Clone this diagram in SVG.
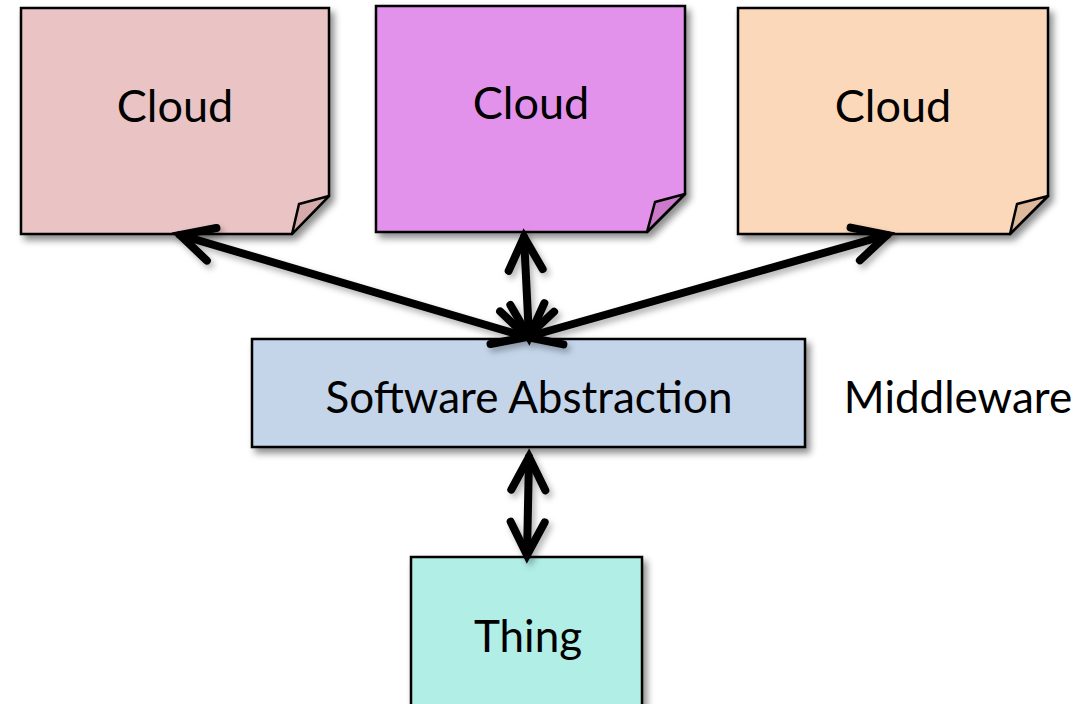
<svg xmlns="http://www.w3.org/2000/svg" width="1074" height="704" viewBox="0 0 1074 704">
<style>
.box{stroke:#000;stroke-width:2.5;stroke-linejoin:miter}
.fold{stroke:#000;stroke-width:2.5;stroke-linejoin:round}
.lbl{font-family:Lato,"Open Sans",sans-serif;font-size:44px;fill:#000;text-anchor:middle}
.arr{stroke:#000;stroke-width:8;fill:none;stroke-linecap:round}
</style>
<defs>
<filter id="sh" x="-10%" y="-10%" width="130%" height="130%">
<feDropShadow dx="4" dy="5" stdDeviation="3.5" flood-color="#000" flood-opacity="0.45"/>
</filter>
<filter id="ash" x="-20%" y="-20%" width="140%" height="140%">
<feDropShadow dx="3" dy="4" stdDeviation="3" flood-color="#000" flood-opacity="0.3"/>
</filter>
<marker id="ah" markerUnits="userSpaceOnUse" markerWidth="60" markerHeight="60" viewBox="-45 -30 60 60" refX="0" refY="0" orient="auto-start-reverse" overflow="visible">
<path d="M-33,-17 L0,0 L-33,17" fill="none" stroke="#000" stroke-width="8" stroke-linecap="round" stroke-linejoin="miter"/>
</marker>
</defs>
<rect width="1074" height="704" fill="#fff"/>
<g id="cloud1">
<path class="box" filter="url(#sh)" d="M21,8 H329 V196 L292,234 H21 Z" fill="#EAC4C4"/>
<path class="fold" d="M329,196 L299,204 L292,234 Z" fill="#D4AAAA"/>
<text class="lbl" x="175" y="122" style="font-size:45px">Cloud</text>
</g>
<g id="cloud2">
<path class="box" filter="url(#sh)" d="M376,6 H685 V194 L647,232 H376 Z" fill="#E392EC"/>
<path class="fold" d="M685,194 L655,202 L647,232 Z" fill="#CB7ACB"/>
<text class="lbl" x="531" y="119" style="font-size:45px">Cloud</text>
</g>
<g id="cloud3">
<path class="box" filter="url(#sh)" d="M738,8 H1048 V196 L1010,234 H738 Z" fill="#FBD8BA"/>
<path class="fold" d="M1048,196 L1017,204 L1010,234 Z" fill="#DEB99C"/>
<text class="lbl" x="893" y="122" style="font-size:45px">Cloud</text>
</g>
<g id="software">
<rect class="box" filter="url(#sh)" x="252" y="339" width="553" height="108" fill="#C4D5EA"/>
<text class="lbl" x="529" y="413">Software Abstraction</text>
</g>
<g id="middleware">
<text class="lbl" x="958" y="413">Middleware</text>
</g>
<g id="thing">
<rect class="box" filter="url(#sh)" x="411" y="557" width="231" height="160" fill="#B1EEE5"/>
<text class="lbl" x="528" y="652">Thing</text>
</g>
<g id="connectors" filter="url(#ash)">
<line class="arr" x1="527" y1="337" x2="180" y2="235" marker-start="url(#ah)" marker-end="url(#ah)"/>
<line class="arr" x1="529" y1="337" x2="524" y2="237" marker-start="url(#ah)" marker-end="url(#ah)"/>
<line class="arr" x1="527" y1="337" x2="887" y2="235" marker-start="url(#ah)" marker-end="url(#ah)"/>
<line class="arr" x1="527" y1="555" x2="529" y2="457" marker-start="url(#ah)" marker-end="url(#ah)"/>
</g>
</svg>
